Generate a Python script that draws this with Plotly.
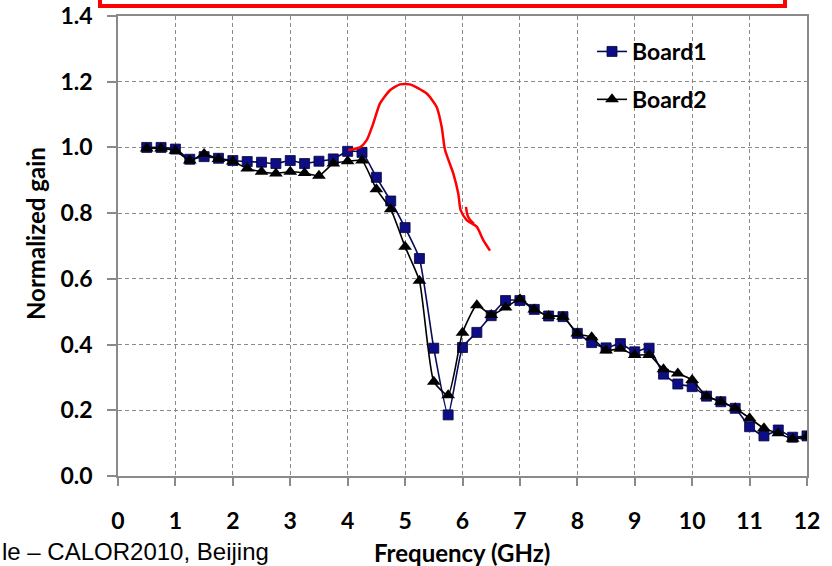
import plotly.graph_objects as go

freq = [0.5, 0.75, 1.0, 1.25, 1.5, 1.75, 2.0, 2.25, 2.5, 2.75, 3.0, 3.25, 3.5, 3.75,
        4.0, 4.25, 4.5, 4.75, 5.0, 5.25, 5.5, 5.75, 6.0, 6.25, 6.5, 6.75, 7.0, 7.25,
        7.5, 7.75, 8.0, 8.25, 8.5, 8.75, 9.0, 9.25, 9.5, 9.75, 10.0, 10.25, 10.5,
        10.75, 11.0, 11.25, 11.5, 11.75, 12.0]

board1 = [1.0, 1.0, 0.995, 0.964, 0.972, 0.967, 0.96, 0.957, 0.955, 0.951, 0.96, 0.951,
          0.958, 0.965, 0.988, 0.985, 0.909, 0.837, 0.756, 0.662, 0.389, 0.186, 0.391,
          0.437, 0.488, 0.534, 0.534, 0.507, 0.487, 0.485, 0.434, 0.406, 0.39, 0.403,
          0.378, 0.389, 0.31, 0.28, 0.272, 0.243, 0.226, 0.206, 0.15, 0.122, 0.14,
          0.118, 0.122]

board2 = [0.997, 0.997, 0.99, 0.96, 0.98, 0.965, 0.957, 0.936, 0.926, 0.921, 0.926, 0.922,
          0.914, 0.951, 0.958, 0.96, 0.873, 0.812, 0.698, 0.594, 0.287, 0.246, 0.436,
          0.52, 0.49, 0.513, 0.538, 0.507, 0.487, 0.485, 0.434, 0.422, 0.382, 0.387,
          0.368, 0.368, 0.325, 0.312, 0.292, 0.243, 0.226, 0.206, 0.176, 0.145, 0.13,
          0.113, 0.12]

# hand-drawn red annotation stroke (in data units)
red_x = [4.01, 4.215, 4.331, 4.446, 4.563, 4.737, 4.911, 5.085, 5.376, 5.55, 5.637,
         5.695, 5.839, 5.926, 5.968, 6.073, 6.247, 6.362, 6.479, None, 6.061, 6.085, 6.13, 6.2]
red_y = [0.992, 1.0, 1.022, 1.073, 1.134, 1.174, 1.192, 1.192, 1.164, 1.123, 1.063,
         0.993, 0.921, 0.86, 0.809, 0.779, 0.759, 0.718, 0.686, None, 0.819, 0.795, 0.78, 0.768]

y_ticks = [0.0, 0.2, 0.4, 0.6, 0.8, 1.0, 1.2, 1.4]
x_ticks = list(range(0, 13))

BOLD = dict(family="Lato, Open Sans, sans-serif", size=23, color="black", weight="bold")
TITLE = dict(family="Lato, Open Sans, sans-serif", size=24, color="black", weight="bold")
GRID = "#8a8a8a"

fig = go.Figure()
fig.add_trace(go.Scatter(
    x=freq, y=board1, name="Board1", mode="lines+markers", legendgroup="b1",
    line=dict(color="#0a0a5a", width=1.6, shape="spline", smoothing=0.5),
    marker=dict(symbol="square", size=10, color="#0d0d85",
                line=dict(color="#06063a", width=0.8)),
))
fig.add_trace(go.Scatter(
    x=freq, y=board2, name="Board2", mode="lines+markers", legendgroup="b2",
    line=dict(color="#000000", width=1.6, shape="spline", smoothing=0.5),
    marker=dict(symbol="triangle-up", size=12, color="#000000"),
))
fig.add_trace(go.Scatter(
    x=red_x, y=red_y, mode="lines", showlegend=False, hoverinfo="skip",
    line=dict(color="#ff0000", width=2.5, shape="spline", smoothing=0.6),
))

L, R, T, B = 118, 25, 16, 90
W, H = 832, 566
pw, ph = W - L - R, H - T - B


def px(xp):
    return (xp - L) / pw


def py(yp):
    return (H - B - yp) / ph


fig.update_layout(
    width=W, height=H,
    margin=dict(l=L, r=R, t=T, b=B, autoexpand=False),
    paper_bgcolor="white", plot_bgcolor="white",
    font=BOLD,
    legend=dict(x=px(592), y=py(30), xanchor="left", yanchor="top",
                font=BOLD, tracegroupgap=15, bgcolor="rgba(255,255,255,0)"),
    xaxis=dict(range=[0, 12], tickvals=x_ticks, ticktext=[str(v) for v in x_ticks],
               showline=True, linecolor=GRID, linewidth=1.5, mirror=True,
               ticks="outside", ticklen=8, tickcolor=GRID, tickwidth=1.5,
               ticklabelstandoff=16, automargin=False,
               showgrid=True, gridcolor=GRID, gridwidth=1.4, griddash="4px,3px",
               zeroline=False, tickfont=BOLD),
    yaxis=dict(range=[0, 1.4], tickvals=y_ticks, ticktext=[f"{v:.1f}" for v in y_ticks],
               showline=True, linecolor=GRID, linewidth=1.5, mirror=True,
               ticks="outside", ticklen=9, tickcolor=GRID, tickwidth=1.5,
               ticklabelstandoff=10, automargin=False,
               showgrid=True, gridcolor=GRID, gridwidth=1.4, griddash="4px,3px",
               zeroline=False, tickfont=BOLD),
    annotations=[
        dict(text="<b>Normalized gain</b>", textangle=-90, xref="paper", yref="paper",
             x=px(35), y=py(234), showarrow=False, xanchor="center", yanchor="middle",
             font=TITLE),
        dict(text="<b>Frequency (GHz)</b>", xref="paper", yref="paper",
             x=px(462), y=py(552), showarrow=False, xanchor="center", yanchor="middle",
             font=TITLE),
        dict(text="le – CALOR2010, Beijing", xref="paper", yref="paper",
             x=px(0), y=py(551), showarrow=False, xanchor="left", yanchor="middle",
             font=dict(family="Liberation Sans, Arial, sans-serif", size=24,
                       color="black", weight="normal")),
    ],
    shapes=[
        dict(type="rect", xref="paper", yref="paper", x0=px(100), x1=px(785),
             y0=py(6), y1=py(-40), line=dict(color="#ff0000", width=4),
             fillcolor="rgba(0,0,0,0)", layer="above"),
    ],
)

fig.write_html("out.html")
